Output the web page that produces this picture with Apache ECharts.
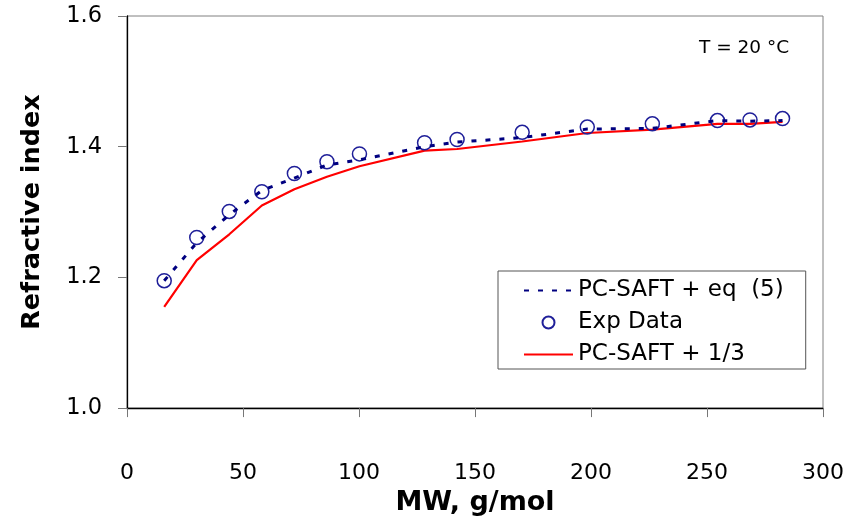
<!DOCTYPE html>
<html>
<head>
<meta charset="utf-8">
<script src="https://cdn.jsdelivr.net/npm/echarts@6/dist/echarts.min.js"></script>
<style>
html,body{margin:0;padding:0;background:#fff;}
#chart{width:849px;height:521px;}
</style>
</head>
<body>
<div id="chart"></div>
<script>
// Molecular weight of n-alkanes (g/mol)
const mw = [16.04, 30.07, 44.1, 58.12, 72.15, 86.18, 100.2, 128.26, 142.28, 170.33, 198.39, 226.44, 254.5, 268.53, 282.55];
// Experimental refractive index
const expData = [1.195, 1.261, 1.301, 1.331, 1.359, 1.377, 1.389, 1.406, 1.411, 1.422, 1.430, 1.435, 1.440, 1.441, 1.443];
// PC-SAFT + eq (5)
const pcsaftEq5 = [1.195, 1.253, 1.296, 1.333, 1.352, 1.372, 1.380, 1.400, 1.407, 1.414, 1.427, 1.428, 1.440, 1.439, 1.440];
// PC-SAFT + 1/3
const pcsaftThird = [1.155, 1.2265, 1.266, 1.310, 1.335, 1.354, 1.370, 1.394, 1.3965, 1.408, 1.421, 1.426, 1.435, 1.435, 1.438];

const seriesNames = ['PC-SAFT + eq  (5)', 'Exp Data', 'PC-SAFT + 1/3'];
const xTicks = {min: 0, max: 300, interval: 50};
const yTicks = {min: 1.0, max: 1.6, interval: 0.2};

const pair = (xs, ys) => xs.map((x, i) => [x, ys[i]]);
const FONT = 'DejaVu Sans';
const BLUE = '#000080';
const CIRCLE = '#1f1f99';
const RED = '#ff0000';

const chart = echarts.init(document.getElementById('chart'), null, {renderer: 'canvas'});
chart.setOption({
  animation: false,
  backgroundColor: '#ffffff',
  title: {
    text: 'T = 20 \u00B0C',
    left: 694, top: 34,
    textStyle: {fontFamily: FONT, fontSize: 18.5, fontWeight: 'normal', color: '#000'}
  },
  grid: {
    left: 127, right: 26, top: 16, bottom: 112,
    show: true, borderColor: '#808080', borderWidth: 1
  },
  legend: {
    orient: 'vertical',
    left: 498, top: 271,
    padding: [7, 22, 2, 25],
    itemWidth: 49, itemHeight: 12, itemGap: 7,
    borderColor: '#555', borderWidth: 1, borderRadius: 0,
    backgroundColor: '#fff',
    textStyle: {fontFamily: FONT, fontSize: 23, color: '#000', lineHeight: 25},
    data: [
      {name: seriesNames[0], itemStyle: {opacity: 0}},
      {name: seriesNames[1], icon: 'circle'},
      {name: seriesNames[2], itemStyle: {opacity: 0}}
    ]
  },
  xAxis: {
    type: 'value',
    min: xTicks.min, max: xTicks.max, interval: xTicks.interval,
    name: 'MW, g/mol', nameLocation: 'middle', nameGap: 71,
    nameTextStyle: {fontFamily: FONT, fontSize: 27, fontWeight: 'bold', color: '#000'},
    axisLine: {show: true, onZero: false, lineStyle: {color: '#000', width: 1.3}},
    axisTick: {show: true, inside: false, length: 9, lineStyle: {color: '#777'}},
    axisLabel: {margin: 54, fontFamily: FONT, fontSize: 22, color: '#000'},
    splitLine: {show: false}
  },
  yAxis: {
    type: 'value',
    min: yTicks.min, max: yTicks.max, interval: yTicks.interval,
    name: 'Refractive index', nameLocation: 'middle', nameGap: 82,
    nameTextStyle: {fontFamily: FONT, fontSize: 25.5, fontWeight: 'bold', color: '#000'},
    axisLine: {show: true, onZero: false, lineStyle: {color: '#000', width: 1.3}},
    axisTick: {show: true, inside: false, length: 9, lineStyle: {color: '#777'}},
    axisLabel: {margin: 25, fontFamily: FONT, fontSize: 22.5, color: '#000',
      formatter: v => v.toFixed(1)},
    splitLine: {show: false}
  },
  series: [
    {
      name: seriesNames[2], type: 'line', data: pair(mw, pcsaftThird),
      symbol: 'none', lineStyle: {color: RED, width: 2.2}, itemStyle: {color: RED}, z: 2
    },
    {
      name: seriesNames[1], type: 'scatter', data: pair(mw, expData),
      symbol: 'circle', symbolSize: 14,
      itemStyle: {color: 'rgba(255,255,255,0)', borderColor: CIRCLE, borderWidth: 1.5, opacity: 1}, z: 3
    },
    {
      name: seriesNames[0], type: 'line', data: pair(mw, pcsaftEq5),
      symbol: 'none', lineStyle: {color: BLUE, width: 3, type: [5, 9]}, itemStyle: {color: BLUE}, z: 4
    }
  ]
});
</script>
</body>
</html>
